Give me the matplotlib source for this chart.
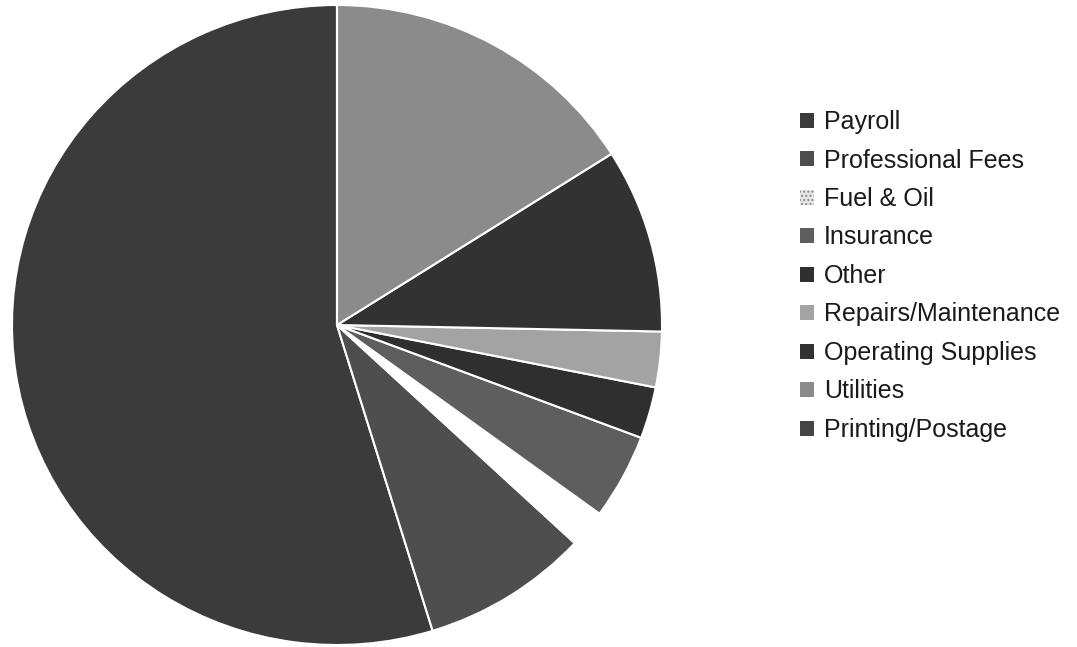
import matplotlib
matplotlib.use("Agg")
import matplotlib.pyplot as plt

plt.rcParams['font.family'] = ['Liberation Sans', 'DejaVu Sans']

labels = ['Payroll', 'Professional Fees', 'Fuel & Oil', 'Insurance', 'Other',
          'Repairs/Maintenance', 'Operating Supplies', 'Utilities', 'Printing/Postage']
# percent of total (counter-clockwise from 12 o'clock)
values = [54.7, 8.3, 1.9, 4.3, 2.6, 2.8, 9.3, 16.0, 0.0]
colors = ['#3b3b3b', '#4e4e4e', '#ffffff', '#5e5e5e', '#2f2f2f',
          '#a3a3a3', '#323232', '#8b8b8b', '#454545']

fig = plt.figure(figsize=(10.77, 6.47), dpi=100)
ax = fig.add_axes([12/1077, 2/647, 650/1077, 640/647])

wedges, _ = ax.pie(values, colors=colors, startangle=90, counterclock=True,
                   wedgeprops=dict(edgecolor='white', linewidth=1.5))
ax.set_aspect('auto')
ax.set_xlim(-1, 1)
ax.set_ylim(-1, 1)

leg = fig.legend(wedges, labels, loc='upper left', bbox_to_anchor=(800/1077, 1 - 110/647),
                 frameon=False, fontsize=18, handlelength=0.55, handleheight=0.55,
                 handletextpad=0.4, labelspacing=0.58, borderpad=0, borderaxespad=0)
for h in leg.legend_handles:
    h.set_edgecolor('none')
# the white slice gets a faint dotted swatch so it shows in the legend
fuel = leg.legend_handles[2]
fuel.set_facecolor('#e6e6e6')
fuel.set_hatch('....')
fuel.set_edgecolor('#888888')
fuel.set_linewidth(0)
for t in leg.get_texts():
    t.set_color('#1a1a1a')

fig.savefig('out.png', dpi=100)
